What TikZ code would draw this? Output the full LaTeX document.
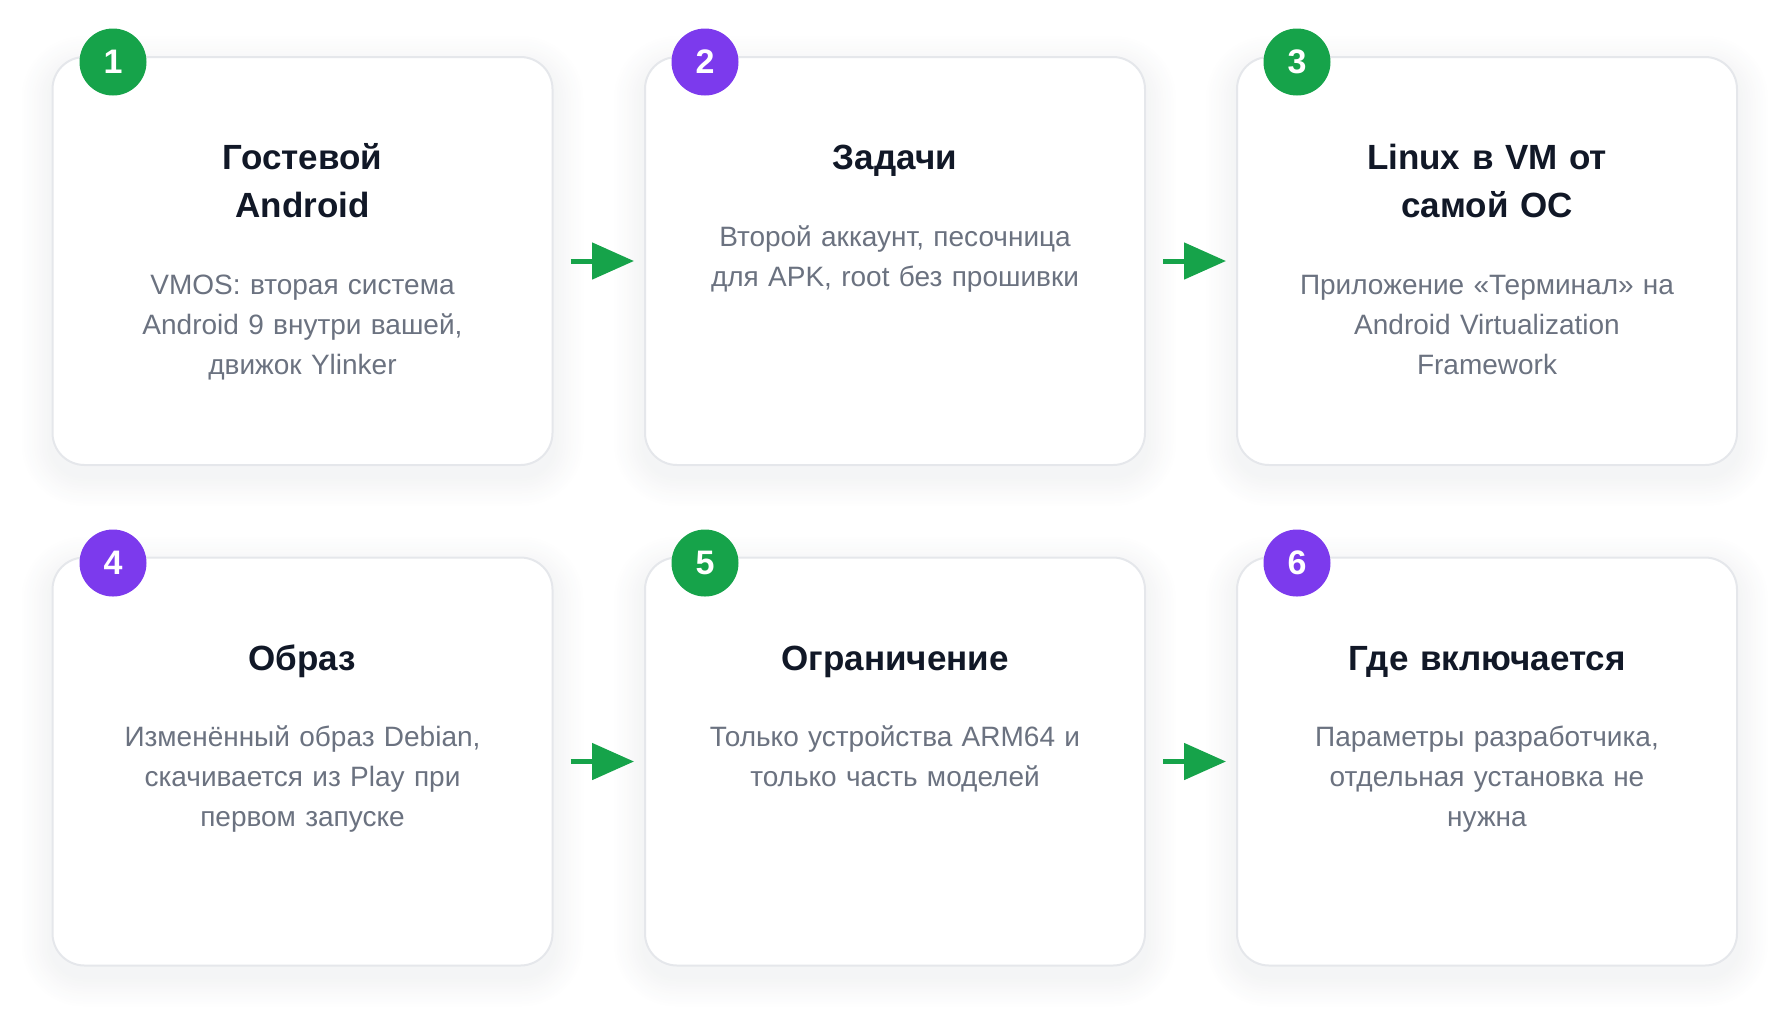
\documentclass[tikz,border=0pt]{standalone}
\usepackage{fontspec}
\setmainfont{Liberation Sans}
\usetikzlibrary{arrows.meta,calc,backgrounds}
\definecolor{cgreen}{HTML}{16A34A}
\definecolor{cpurple}{HTML}{7C3AED}
\definecolor{ctitle}{HTML}{111827}
\definecolor{cdesc}{HTML}{6B7280}
\definecolor{cborder}{HTML}{E5E7EB}
\definecolor{cshadow}{HTML}{1F2937}
\tikzset{
  card/.style={draw=cborder, line width=1pt, fill=white, rounded corners=16pt,
    minimum width=250pt, minimum height=204pt, inner sep=0pt},
  badge/.style={circle, minimum size=33.5pt, inner sep=0pt, text=white,
    font=\fontsize{17pt}{17pt}\selectfont\bfseries},
  ttl/.style={anchor=base, text width=230pt, align=center, text=ctitle, inner sep=0pt,
    font=\fontsize{17.5pt}{24pt}\selectfont\bfseries},
  dsc/.style={anchor=base, text width=230pt, align=center, text=cdesc, inner sep=0pt,
    font=\fontsize{14pt}{20pt}\selectfont},
  arr/.style={draw=cgreen, line width=2.5pt, -{Triangle[length=21pt,width=18pt]},
    shorten <=8.5pt, shorten >=5pt},
}
\begin{document}
\begin{tikzpicture}[x=0.5pt,y=-0.5pt]
\useasboundingbox (0,0) rectangle (1790,1025);
% cards
\node[card] (c1) at (302.5,261) {};
\node[card] (c2) at (895,261) {};
\node[card] (c3) at (1487,261) {};
\node[card] (c4) at (302.5,761.5) {};
\node[card] (c5) at (895,761.5) {};
\node[card] (c6) at (1487,761.5) {};
\begin{pgfonlayer}{background}
\foreach \c in {c1,c2,c3,c4,c5,c6}{
  \foreach \i in {1,...,12}{
    \pgfmathsetmacro\rr{16+\i*1.25}
    \fill[cshadow, opacity=0.0055, rounded corners=\rr pt]
      ($(\c.north west)+(-\i*1.25pt,\i*1.25pt-5pt)$) rectangle
      ($(\c.south east)+(\i*1.25pt,-\i*1.25pt-5pt)$);
  }
}
\end{pgfonlayer}
% badges
\node[badge, fill=cgreen] (b1) at (113,62) {1};
\node[badge, fill=cpurple] (b2) at (705,62) {2};
\node[badge, fill=cgreen] (b3) at (1297,62) {3};
\node[badge, fill=cpurple] (b4) at (113,563) {4};
\node[badge, fill=cgreen] (b5) at (705,563) {5};
\node[badge, fill=cpurple] (b6) at (1297,563) {6};
% titles
\node[ttl] (t1) at (302.5,169) {Гостевой\\Android};
\node[ttl] (t2) at (895,169) {Задачи};
\node[ttl] (t3) at (1487,169) {Linux в VM от\\самой ОС};
\node[ttl] (t4) at (302.5,670) {Образ};
\node[ttl] (t5) at (895,670) {Ограничение};
\node[ttl] (t6) at (1487,670) {Где включается};
% descriptions
\node[dsc] (d1) at (302.5,294) {VMOS: вторая система\\Android 9 внутри вашей,\\движок Ylinker};
\node[dsc] (d2) at (895,246) {Второй аккаунт, песочница\\для APK, root без прошивки};
\node[dsc] (d3) at (1487,294) {Приложение «Терминал» на\\Android Virtualization\\Framework};
\node[dsc] (d4) at (302.5,746) {Изменённый образ Debian,\\скачивается из Play при\\первом запуске};
\node[dsc] (d5) at (895,746) {Только устройства ARM64 и\\только часть моделей};
\node[dsc] (d6) at (1487,746) {Параметры разработчика,\\отдельная установка не\\нужна};
% arrows
\draw[arr] (c1.east) -- (c2.west);
\draw[arr] (c2.east) -- (c3.west);
\draw[arr] (c4.east) -- (c5.west);
\draw[arr] (c5.east) -- (c6.west);
\end{tikzpicture}
\end{document}
